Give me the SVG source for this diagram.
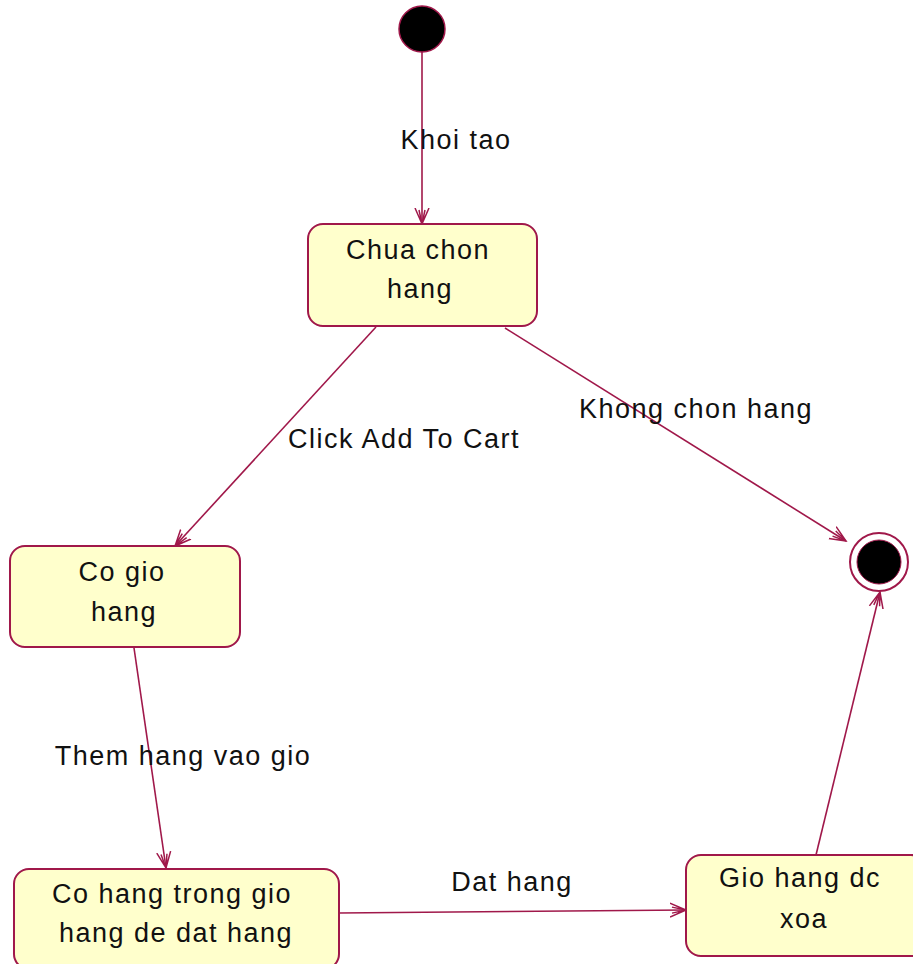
<svg xmlns="http://www.w3.org/2000/svg" width="913" height="964" viewBox="0 0 913 964">
<defs>
<style>
.st{fill:#ffffcc;stroke:#a0184a;stroke-width:2}
.ln{fill:none;stroke:#a0184a;stroke-width:1.6;marker-end:url(#ah)}
text{font-family:"Liberation Sans",Arial,sans-serif;font-size:27px;letter-spacing:1.5px;fill:#111;text-anchor:middle}
</style>
<marker id="ah" markerUnits="userSpaceOnUse" markerWidth="20" markerHeight="20" refX="16" refY="8" orient="auto" viewBox="0 0 20 16">
<path d="M0,1 L16,8 L0,15 M2,5 L16,8 L2,11" fill="none" stroke="#a0184a" stroke-width="1.5"/>
</marker>
</defs>
<rect width="913" height="964" fill="#ffffff"/>
<g id="connectors">
<line class="ln" x1="422" y1="52" x2="422" y2="224"/>
<line class="ln" x1="376" y1="327" x2="175" y2="546"/>
<line class="ln" x1="505" y1="328" x2="846" y2="541"/>
<line class="ln" x1="134" y1="648" x2="166" y2="868"/>
<line class="ln" x1="339" y1="913" x2="686" y2="910"/>
<line class="ln" x1="816" y1="855" x2="880" y2="592"/>
<text x="456" y="149">Khoi tao</text>
<text x="404" y="448">Click Add To Cart</text>
<text x="696" y="418">Khong chon hang</text>
<text x="183" y="765">Them hang vao gio</text>
<text x="512" y="891">Dat hang</text>
</g>
<g id="start">
<circle cx="422" cy="29" r="23" fill="#000" stroke="#a0184a" stroke-width="1.5"/>
</g>
<g id="end">
<circle cx="879" cy="562" r="29" fill="#fff" stroke="#a0184a" stroke-width="2"/>
<circle cx="879" cy="562" r="22" fill="#000" stroke="#a0184a" stroke-width="1"/>
</g>
<g id="chua-chon-hang">
<rect class="st" x="308" y="224" width="229" height="102" rx="15"/>
<text x="418" y="259">Chua chon</text>
<text x="420" y="298">hang</text>
</g>
<g id="co-gio-hang">
<rect class="st" x="10" y="546" width="230" height="101" rx="15"/>
<text x="122" y="581">Co gio</text>
<text x="124" y="621">hang</text>
</g>
<g id="co-hang-trong-gio">
<rect class="st" x="14" y="869" width="325" height="100" rx="15"/>
<text x="172" y="903">Co hang trong gio</text>
<text x="176" y="942">hang de dat hang</text>
</g>
<g id="gio-hang-dc-xoa">
<rect class="st" x="686" y="855" width="240" height="101" rx="15"/>
<text x="800" y="887">Gio hang dc</text>
<text x="804" y="928">xoa</text>
</g>
</svg>
